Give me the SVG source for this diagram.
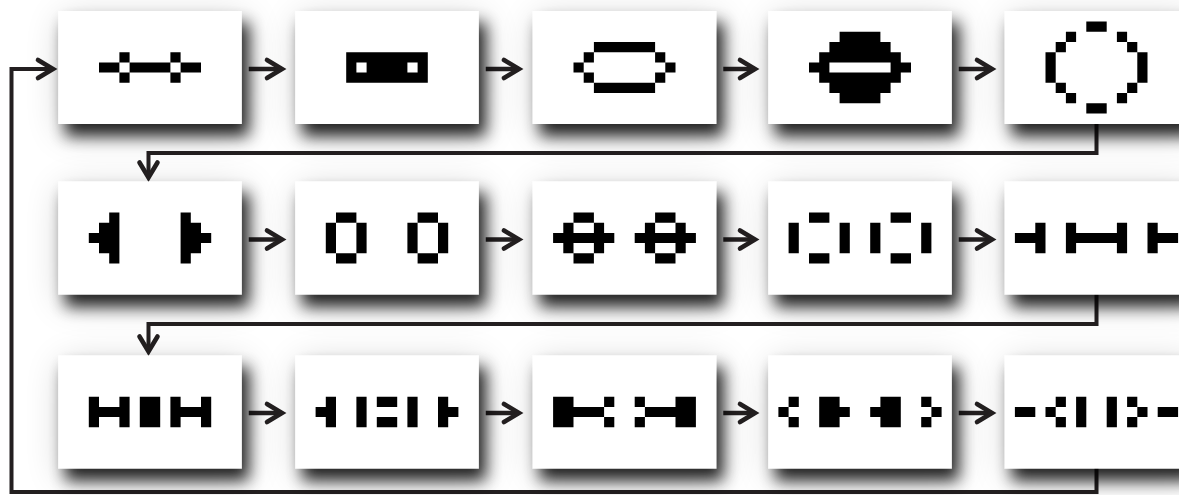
<svg xmlns="http://www.w3.org/2000/svg" width="1179" height="495" viewBox="0 0 1179 495">
<style>
.box{fill:#fff;filter:url(#sh)}
.px{fill:#000}
.arr{fill:none;stroke:#231f20;stroke-width:4.5;marker-end:url(#ah)}
.con{fill:none;stroke:#231f20;stroke-width:4;marker-end:url(#ah)}
</style>
<defs>
<filter id="sh" x="-30%" y="-30%" width="170%" height="200%">
<feGaussianBlur in="SourceAlpha" stdDeviation="18" result="b1"/>
<feOffset in="b1" dx="4" dy="8" result="o1"/>
<feComponentTransfer in="o1" result="f1"><feFuncA type="linear" slope="0.2"/></feComponentTransfer>
<feGaussianBlur in="SourceAlpha" stdDeviation="8" result="b2"/>
<feOffset in="b2" dx="7" dy="12" result="o2"/>
<feComponentTransfer in="o2" result="f2"><feFuncA type="linear" slope="0.85"/></feComponentTransfer>
<feMerge><feMergeNode in="f1"/><feMergeNode in="f2"/><feMergeNode in="SourceGraphic"/></feMerge>
</filter>
<marker id="ah" markerUnits="userSpaceOnUse" viewBox="-20 -12 26 24" refX="0" refY="0" markerWidth="26" markerHeight="24" orient="auto" overflow="visible">
<path d="M-15,-9 L0,0 L-15,9" fill="none" stroke="#231f20" stroke-width="4.6" stroke-linecap="round" stroke-linejoin="miter"/>
</marker>
</defs>
<rect width="1179" height="495" fill="#fff"/>

<g id="connectors">
<path class="arr" d="M248.75,69 H282"/>
<path class="arr" d="M485.75,69 H519"/>
<path class="arr" d="M723.25,69 H755"/>
<path class="arr" d="M958.75,69 H992"/>
<path class="arr" d="M248.75,239.5 H282"/>
<path class="arr" d="M485.75,239.5 H519"/>
<path class="arr" d="M723.25,239.5 H755"/>
<path class="arr" d="M958.75,239.5 H992"/>
<path class="arr" d="M248.75,413 H282"/>
<path class="arr" d="M485.75,413 H519"/>
<path class="arr" d="M723.25,413 H755"/>
<path class="arr" d="M958.75,413 H992"/>
<path class="con" d="M1096.5,124 V153 H148.5 V177.5"/>
<path class="con" d="M1096.5,294.5 V324 H148.5 V351.5"/>
<path class="con" d="M1096.5,468 V492 H11.5 V69 H53"/>
</g>

<g id="n1"><rect class="box" x="58.25" y="11" width="183.5" height="113"/>
<path class="px" transform="translate(99,52.2) scale(10.2)" d="M2 0h1v1h-1z M7 0h1v1h-1z M0 1h2v1h-2z M3 1h4v1h-4z M8 1h2v1h-2z M2 2h1v1h-1z M7 2h1v1h-1z"/></g>
<g id="n2"><rect class="box" x="295.25" y="11" width="183.5" height="113"/>
<path class="px" transform="translate(346.2,52.2) scale(10.2)" d="M0 0h8v1h-8z M0 1h1v1h-1z M2 1h4v1h-4z M7 1h1v1h-1z M0 2h8v1h-8z"/></g>
<g id="n3"><rect class="box" x="532.75" y="11" width="183.5" height="113"/>
<path class="px" transform="translate(573.5,42) scale(10.2)" d="M2 0h6v1h-6z M1 1h1v1h-1z M8 1h1v1h-1z M0 2h1v1h-1z M9 2h1v1h-1z M1 3h1v1h-1z M8 3h1v1h-1z M2 4h6v1h-6z"/></g>
<g id="n4"><rect class="box" x="768.25" y="11" width="183.5" height="113"/>
<path class="px" transform="translate(809,31.8) scale(10.2)" d="M3 0h4v1h-4z M2 1h6v1h-6z M1 2h8v1h-8z M0 3h2v1h-2z M8 3h2v1h-2z M1 4h8v1h-8z M2 5h6v1h-6z M3 6h4v1h-4z"/></g>
<g id="n5"><rect class="box" x="1004.75" y="11" width="183.5" height="113"/>
<path class="px" transform="translate(1045.5,21.6) scale(10.2)" d="M4 0h2v1h-2z M2 1h1v1h-1z M7 1h1v1h-1z M1 2h1v1h-1z M8 2h1v1h-1z M0 3h1v3h-1z M9 3h1v3h-1z M1 6h1v1h-1z M8 6h1v1h-1z M2 7h1v1h-1z M7 7h1v1h-1z M4 8h2v1h-2z"/></g>

<g id="n6"><rect class="box" x="58.25" y="181.5" width="183.5" height="113"/>
<path class="px" transform="translate(88.8,212.5) scale(10.2)" d="M2 0h1v1h-1z M9 0h1v1h-1z M1 1h2v1h-2z M9 1h2v1h-2z M0 2h3v1h-3z M9 2h3v1h-3z M1 3h2v1h-2z M9 3h2v1h-2z M2 4h1v1h-1z M9 4h1v1h-1z"/></g>
<g id="n7"><rect class="box" x="295.25" y="181.5" width="183.5" height="113"/>
<path class="px" transform="translate(325.8,212.5) scale(10.2)" d="M1 0h2v1h-2z M9 0h2v1h-2z M0 1h1v3h-1z M3 1h1v3h-1z M8 1h1v3h-1z M11 1h1v3h-1z M1 4h2v1h-2z M9 4h2v1h-2z"/></g>
<g id="n8"><rect class="box" x="532.75" y="181.5" width="183.5" height="113"/>
<path class="px" transform="translate(553.1,212.5) scale(10.2)" d="M2 0h2v1h-2z M10 0h2v1h-2z M1 1h1v1h-1z M4 1h1v1h-1z M9 1h1v1h-1z M12 1h1v1h-1z M0 2h6v1h-6z M8 2h6v1h-6z M1 3h1v1h-1z M4 3h1v1h-1z M9 3h1v1h-1z M12 3h1v1h-1z M2 4h2v1h-2z M10 4h2v1h-2z"/></g>
<g id="n9"><rect class="box" x="768.25" y="181.5" width="183.5" height="113"/>
<path class="px" transform="translate(788.6,212.5) scale(10.2)" d="M2 0h2v1h-2z M10 0h2v1h-2z M0 1h1v3h-1z M5 1h1v3h-1z M8 1h1v3h-1z M13 1h1v3h-1z M2 4h2v1h-2z M10 4h2v1h-2z"/></g>
<g id="n10"><rect class="box" x="1004.75" y="181.5" width="183.5" height="113"/>
<path class="px" transform="translate(1014.9,222.7) scale(10.2)" d="M2 0h1v3h-1z M5 0h1v3h-1z M10 0h1v3h-1z M13 0h1v3h-1z M0 1h2v1h-2z M6 1h4v1h-4z M14 1h2v1h-2z"/></g>

<g id="n11"><rect class="box" x="58.25" y="355.5" width="183.5" height="113"/>
<path class="px" transform="translate(88.8,396.7) scale(10.2)" d="M0 0h1v3h-1z M3 0h1v3h-1z M1 1h2v1h-2z M5 0h2v3h-2z M8 0h1v3h-1z M11 0h1v3h-1z M9 1h2v1h-2z"/></g>
<g id="n12"><rect class="box" x="295.25" y="355.5" width="183.5" height="113"/>
<path class="px" transform="translate(315.6,396.7) scale(10.2)" d="M1 0h1v3h-1z M0 1h1v1h-1z M4 0h1v3h-1z M6 0h2v1h-2z M6 2h2v1h-2z M9 0h1v3h-1z M12 0h1v3h-1z M13 1h1v1h-1z"/></g>
<g id="n13"><rect class="box" x="532.75" y="355.5" width="183.5" height="113"/>
<path class="px" transform="translate(553.1,396.7) scale(10.2)" d="M0 0h2v3h-2z M2 1h3v1h-3z M5 0h1v1h-1z M5 2h1v1h-1z M8 0h1v1h-1z M8 2h1v1h-1z M9 1h3v1h-3z M12 0h2v3h-2z"/></g>
<g id="n14"><rect class="box" x="768.25" y="355.5" width="183.5" height="113"/>
<path class="px" transform="translate(778.4,396.7) scale(10.2)" d="M0 1h1v1h-1z M1 0h1v1h-1z M1 2h1v1h-1z M4 0h2v3h-2z M6 1h1v1h-1z M9 1h1v1h-1z M10 0h2v3h-2z M14 0h1v1h-1z M14 2h1v1h-1z M15 1h1v1h-1z"/></g>
<g id="n15"><rect class="box" x="1004.75" y="355.5" width="183.5" height="113"/>
<path class="px" transform="translate(1014.9,396.7) scale(10.2)" d="M0 1h2v1h-2z M3 1h1v1h-1z M4 0h1v1h-1z M4 2h1v1h-1z M6 0h1v3h-1z M9 0h1v3h-1z M11 0h1v1h-1z M11 2h1v1h-1z M12 1h1v1h-1z M14 1h2v1h-2z"/></g>
</svg>
